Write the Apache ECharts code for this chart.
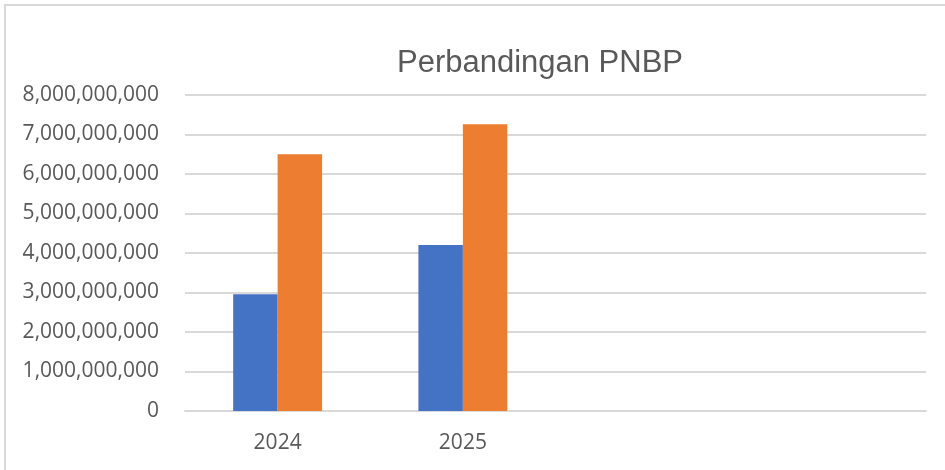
<!DOCTYPE html>
<html>
<head>
<meta charset="utf-8">
<script src="https://cdn.jsdelivr.net/npm/echarts@6/dist/echarts.min.js"></script>
<style>
  html, body { margin: 0; padding: 0; background: #fff; }
  #chart { width: 945px; height: 470px; }
</style>
</head>
<body>
<div id="chart"></div>
<script>
// data
var categories = ['2024', '2025', '', ''];
var seriesBlue = [2955000000, 4200000000, null, null];
var seriesOrange = [6500000000, 7258000000, null, null];
var yMin = 0, yMax = 8000000000, yStep = 1000000000;

var chart = echarts.init(document.getElementById('chart'));

//label format with thousands separators
function fmt(v) {
    return String(v).replace(/\B(?=(\d{3})+(?!\d))/g, ',');
}

var option = {
    animation: false,
    backgroundColor: '#fff',
    graphic: [{
        type: 'rect',
        shape: { x: 5, y: 5, width: 960, height: 480 },
        style: { fill: 'none', stroke: '#d9d9d9', lineWidth: 2 },
        silent: true
    }],
    title: {
        text: 'Perbandingan PNBP',
        left: 535,
        top: 43,
        textAlign: 'center',
        textStyle: {
            fontFamily: 'Liberation Sans',
            fontSize: 31,
            fontWeight: 'normal',
            color: '#595959'
        }
    },
    grid: { left: 185, right: 19, top: 95, bottom: 59 },
    xAxis: {
        type: 'category',
        data: categories,
        axisTick: { show: false },
        axisLine: { lineStyle: { color: '#d9d9d9', width: 2 } },
        axisLabel: {
            margin: 22,
            fontFamily: 'Open Sans',
            fontSize: 21,
            color: '#595959'
        }
    },
    yAxis: {
        type: 'value',
        min: yMin,
        max: yMax,
        interval: yStep,
        axisLine: { show: false },
        axisTick: { show: false },
        splitLine: { lineStyle: { color: '#d9d9d9', width: 2 } },
        axisLabel: {
            margin: 26,
            fontFamily: 'Open Sans',
            fontSize: 21,
            color: '#595959',
            formatter: fmt
        }
    },
    series: [{
        name: 'Seri 1',
        type: 'bar',
        data: seriesBlue,
        barGap: '0%',
        barCategoryGap: '52%',
        itemStyle: { color: '#4472c4' }
    }, {
        name: 'Seri 2',
        type: 'bar',
        data: seriesOrange,
        itemStyle: { color: '#ed7d31' }
    }]
};

chart.setOption(option);
</script>
</body>
</html>
